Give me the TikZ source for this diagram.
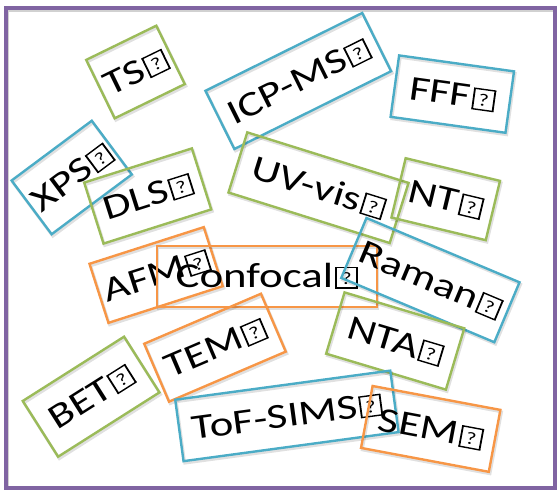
\documentclass[tikz,border=0pt]{standalone}
\usepackage{fontspec}
\setmainfont{Carlito}
\usepackage{graphicx}
\definecolor{cgreen}{HTML}{9BBB59}
\definecolor{cblue}{HTML}{4BACC6}
\definecolor{corange}{HTML}{F79646}
\definecolor{cpurple}{HTML}{8064A2}
\newcommand\mgl{\kern0.05em{\setlength{\fboxsep}{0pt}\setlength{\fboxrule}{0.04em}\fbox{\makebox[0.42em]{\rule{0pt}{0.55em}\raisebox{0.08em}{\scalebox{0.5}{?}}}}}}
\newcommand\lbl[1]{\scalebox{1.28}[1]{#1\mgl}}
\tikzset{
  tag/.style={draw=#1, line width=2.4pt, inner sep=0pt,
    font=\fontsize{35}{40}\selectfont, text height=22pt, text depth=0pt,
    minimum height=63pt,
    preaction={draw=black, draw opacity=0.12, line width=2.8pt,
      transform canvas={shift={(1.2pt,-2pt)}}}},
}
\begin{document}
\begin{tikzpicture}[x=1pt,y=1pt]
\useasboundingbox (0,0) rectangle (557,-490);
\draw[black!18, line width=4pt] (7,-9.5) rectangle (556,-489.5);
\draw[cpurple, line width=4pt] (6,-8) rectangle (555,-488);
\node[tag=cgreen, minimum width=78pt, minimum height=65pt, rotate=26] (ts) at (135.5,-72) {\lbl{TS}};
\node[tag=cblue, minimum width=175pt, minimum height=65pt, rotate=26.4] (icp) at (298.3,-81) {\lbl{ICP-MS}};
\node[tag=cblue, minimum width=116pt, minimum height=62pt, rotate=-7.9] (fff) at (452.3,-94.1) {\lbl{FFF}};
\node[tag=cblue, minimum width=100pt, minimum height=67pt, rotate=36.7] (xps) at (71.7,-177.5) {\lbl{XPS}};
\node[tag=cgreen, minimum width=113pt, minimum height=64pt, rotate=17.6] (dls) at (147.7,-196) {\lbl{DLS}};
\node[tag=cgreen, minimum width=169pt, minimum height=63pt, rotate=-17.4] (uv) at (318.5,-187.7) {\lbl{UV-vis}};
\node[tag=cgreen, minimum width=97pt, minimum height=61pt, rotate=-13.5] (nt) at (445.7,-199.2) {\lbl{NT}};
\node[tag=corange, minimum width=120pt, minimum height=62pt, rotate=17.8] (afm) at (156.1,-275) {\lbl{AFM}};
\node[tag=corange, minimum width=220pt, minimum height=61pt] (conf) at (266.7,-276.4) {\lbl{Confocal}};
\node[tag=cblue, minimum width=166pt, minimum height=65pt, rotate=-22.8] (raman) at (430.4,-280.1) {\lbl{Raman}};
\node[tag=cgreen, minimum width=125pt, minimum height=64pt, rotate=-16.7] (nta) at (395.2,-341) {\lbl{NTA}};
\node[tag=corange, minimum width=127pt, minimum height=63pt, rotate=23.2] (tem) at (215,-347.7) {\lbl{TEM}};
\node[tag=cgreen, minimum width=120pt, minimum height=66pt, rotate=32.4] (bet) at (91.1,-396.7) {\lbl{BET}};
\node[tag=cblue, minimum width=217pt, minimum height=62pt, rotate=7.7] (tof) at (286.9,-415.9) {\lbl{ToF-SIMS}};
\node[tag=corange, minimum width=130pt, minimum height=63pt, rotate=-10.6] (sem) at (430.7,-428.9) {\lbl{SEM}};
\end{tikzpicture}
\end{document}
